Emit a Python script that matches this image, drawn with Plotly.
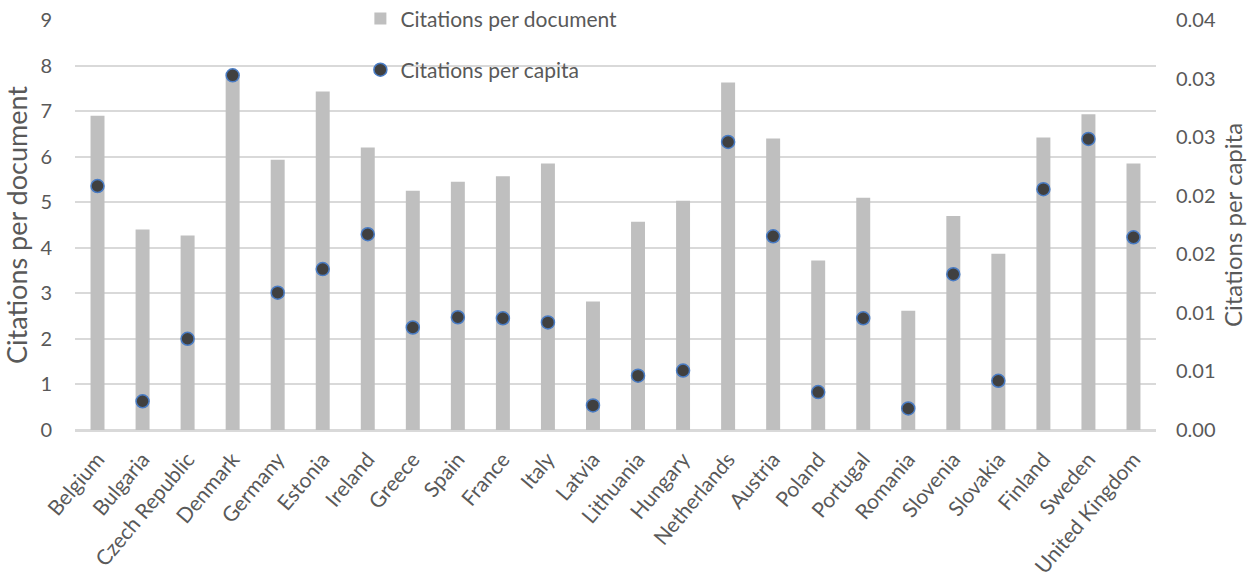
import plotly.graph_objects as go

countries = ["Belgium", "Bulgaria", "Czech Republic", "Denmark", "Germany", "Estonia",
             "Ireland", "Greece", "Spain", "France", "Italy", "Latvia", "Lithuania",
             "Hungary", "Netherlands", "Austria", "Poland", "Portugal", "Romania",
             "Slovenia", "Slovakia", "Finland", "Sweden", "United Kingdom"]

citations_per_document = [6.90, 4.40, 4.27, 7.80, 5.93, 7.43, 6.20, 5.25, 5.45, 5.57, 5.85,
                          2.82, 4.57, 5.03, 7.63, 6.40, 3.72, 5.10, 2.62, 4.70, 3.87, 6.42,
                          6.93, 5.85]

citations_per_capita = [0.0238, 0.0028, 0.0089, 0.0346, 0.0134, 0.0157, 0.0191, 0.0100,
                        0.0110, 0.0109, 0.0105, 0.0024, 0.0053, 0.0058, 0.0281, 0.0189,
                        0.0037, 0.0109, 0.0021, 0.0152, 0.0048, 0.0235, 0.0284, 0.0188]

left_ticks = list(range(0, 10))
right_tick_values = [0.0, 0.04 / 7, 0.08 / 7, 0.12 / 7, 0.16 / 7, 0.20 / 7, 0.24 / 7, 0.04]
right_tick_labels = ["0.00", "0.01", "0.01", "0.02", "0.02", "0.03", "0.03", "0.04"]

FONT = "Lato, Open Sans, sans-serif"
TEXT = "#595959"
GRID = "#d9d9d9"

fig = go.Figure()
fig.add_trace(go.Bar(
    x=countries, y=citations_per_document, name="Citations per document",
    marker=dict(color="#bfbfbf", line=dict(width=0)), legendgroup="a",
))
fig.add_trace(go.Scatter(
    x=countries, y=citations_per_capita, name="Citations per capita", yaxis="y2",
    mode="markers", legendgroup="b",
    marker=dict(color="#404040", size=13, line=dict(color="#4a7cc4", width=1.5)),
))

fig.update_layout(
    width=1248, height=588,
    margin=dict(l=75, r=92, t=20, b=158, autoexpand=False),
    paper_bgcolor="white", plot_bgcolor="white",
    font=dict(family=FONT, size=20, color=TEXT),
    bargap=0.69,
    showlegend=True,
    legend=dict(x=0.264, y=1.053, xanchor="left", yanchor="top",
                bgcolor="rgba(0,0,0,0)", tracegroupgap=21,
                font=dict(family=FONT, size=21, color=TEXT)),
    xaxis=dict(range=[-0.5, 23.5], tickangle=-50, showgrid=False, showline=False,
               ticks="", automargin=False, ticklabelstandoff=12,
               tickfont=dict(family=FONT, size=21, color=TEXT)),
    yaxis=dict(range=[0, 9], tickvals=left_ticks, showgrid=True, gridcolor=GRID,
               gridwidth=1.5, zeroline=True, zerolinecolor=GRID, zerolinewidth=2.5,
               automargin=False,
               title=dict(text="Citations per document", font=dict(size=27, color=TEXT),
                          standoff=14),
               ticks="", ticklabelstandoff=22),
    yaxis2=dict(range=[0, 0.04], overlaying="y", side="right", automargin=False,
                tickvals=right_tick_values, ticktext=right_tick_labels,
                showgrid=False, zeroline=False, ticks="", ticklabelstandoff=19,
                title=dict(text="Citations per capita", font=dict(size=24, color=TEXT),
                           standoff=10)),
)

fig.write_html("out.html")
